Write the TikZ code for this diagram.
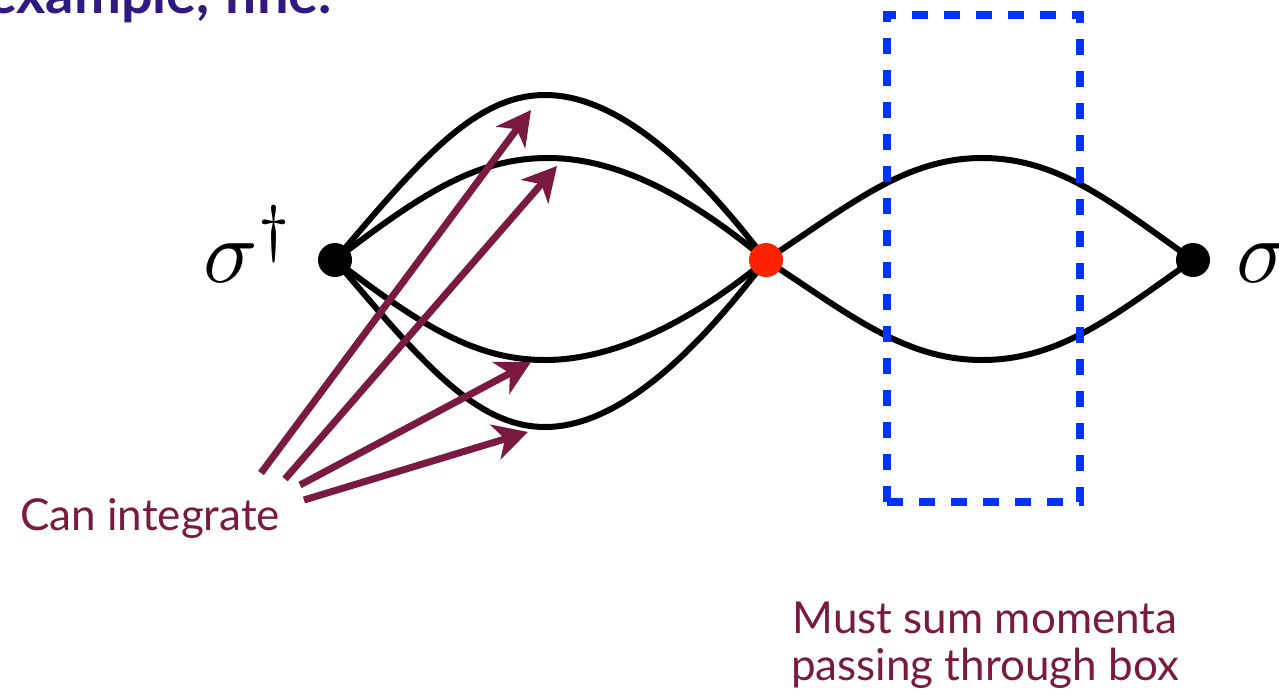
\documentclass[tikz,border=0pt]{standalone}
\usepackage{fontspec}
\setmainfont{Lato}
\usetikzlibrary{arrows.meta}
\definecolor{wine}{HTML}{7A1A3E}
\definecolor{boxblue}{HTML}{0033FF}
\definecolor{dotred}{HTML}{FF2200}
\definecolor{headblue}{HTML}{2E1A80}
\tikzset{
  line/.style={line width=6pt, black},
  vdot/.style={circle, fill=#1, minimum size=34pt, inner sep=0pt},
  arr/.style={wine, line width=7pt, -{Stealth[length=34pt, width=36pt, inset=10pt]}},
  lbl/.style={text=wine, font=\fontsize{44}{47}\selectfont, inner sep=0pt, align=center},
  sig/.style={inner sep=0pt, font=\normalsize},
}
\begin{document}
\begin{tikzpicture}[x=1pt, y=-1pt]
\useasboundingbox (0,0) rectangle (1279,699);
\clip (0,0) rectangle (1279,699);
% header (cut off at the top edge)
\node[anchor=base east, inner sep=0pt, text=headblue, font=\fontsize{56}{60}\selectfont\bfseries] (head) at (332,13) {example, fine.};
% vertices
\coordinate (L) at (335,260);
\coordinate (M) at (766,260);
\coordinate (R) at (1193,260);
% left lobes
\draw[line] (L) .. controls (420,160) and (475,95) .. (545,95) .. controls (615,95) and (690,160) .. (M);
\draw[line] (L) .. controls (420,195) and (475,158) .. (548,158) .. controls (625,158) and (700,205) .. (M);
\draw[line] (L) .. controls (420,325) and (475,360) .. (545,360) .. controls (620,360) and (700,315) .. (M);
\draw[line] (L) .. controls (420,360) and (475,427) .. (545,427) .. controls (615,427) and (690,360) .. (M);
% right lobes
\draw[line] (M) .. controls (850,205) and (905,158) .. (982,158) .. controls (1060,158) and (1115,205) .. (R);
\draw[line] (M) .. controls (850,315) and (905,360) .. (982,360) .. controls (1060,360) and (1115,315) .. (R);
% dots
\node[vdot=black] (vL) at (L) {};
\node[vdot=dotred] (vM) at (M) {};
\node[vdot=black] (vR) at (R) {};
% sigma labels
\node[sig, anchor=base west] (sL) at (203,282) {\scalebox{9}{$\sigma^\dagger$}};
\node[sig, anchor=base west] (sR) at (1236,282) {\scalebox{9}{$\sigma$}};
% box
\node[draw=boxblue, line width=8pt, dash pattern=on 16pt off 16pt, minimum width=193pt, minimum height=487pt, inner sep=0pt] (box) at (983.5,258.5) {};
% arrows
\coordinate (t1) at (261,473);
\coordinate (t2) at (285,479);
\coordinate (t3) at (300,485);
\coordinate (t4) at (304,500);
\coordinate (h1) at (531,110);
\coordinate (h2) at (557,166);
\coordinate (h3) at (531,362);
\coordinate (h4) at (528,432);
\draw[arr] (t1) -- (h1);
\draw[arr] (t2) -- (h2);
\draw[arr] (t3) -- (h3);
\draw[arr] (t4) -- (h4);
% labels
\node[lbl, anchor=base west] (can) at (20,530) {Can integrate};
\node[lbl, anchor=base] (must) at (985,680) {Must sum momenta\\passing through box};
\end{tikzpicture}
\end{document}
